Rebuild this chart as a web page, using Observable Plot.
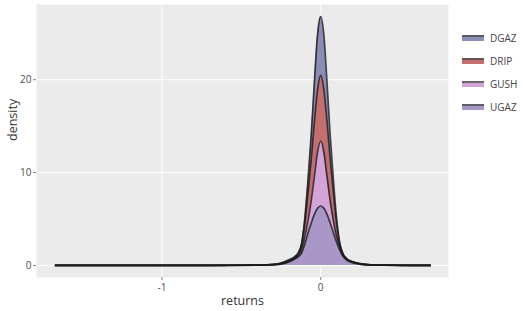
<!DOCTYPE html>
<html>
<head>
<meta charset="utf-8">
<script src="https://cdn.jsdelivr.net/npm/d3@7"></script>
<script src="https://cdn.jsdelivr.net/npm/@observablehq/plot@0.6"></script>
<style>
  body { margin: 0; background: #fff; font-family: "Open Sans", sans-serif; }
  #wrap { position: relative; width: 523px; height: 311px; }
  #legend { position: absolute; left: 462px; top: 26px; font-size: 10px; color: #444; }
  .row { display: flex; align-items: center; height: 23px; }
  .sw { width: 22px; height: 4px; margin-right: 6px; border-top: 2px solid rgba(70,70,70,0.7); }
</style>
</head>
<body>
<div id="wrap"><div id="chart"></div><div id="legend"></div></div>
<script>
const series = ["DGAZ", "DRIP", "GUSH", "UGAZ"];
const colors = ["#8c8db6", "#c46e6f", "#d4a3d8", "#a897c7"];
const xTicks = [-1, 0];
const yTicks = [0, 10, 20];

const returns = [-1.67, -1.2, -0.8, -0.6, -0.4, -0.3, -0.25, -0.2, -0.16, -0.14, -0.12, -0.1, -0.08, -0.06, -0.04, -0.02, 0, 0.02, 0.04, 0.06, 0.08, 0.1, 0.12, 0.14, 0.16, 0.2, 0.25, 0.3, 0.4, 0.5, 0.69];
const UGAZ = [0, 0.002, 0.004, 0.008, 0.02, 0.06, 0.14, 0.38, 0.72, 0.95, 1.35, 2.3, 3.5, 4.55, 5.5, 6.15, 6.4, 6.15, 5.5, 4.55, 3.5, 2.5, 1.65, 1.0, 0.62, 0.3, 0.12, 0.05, 0.02, 0.008, 0];
const GUSH = [0, 0.001, 0.002, 0.004, 0.01, 0.02, 0.04, 0.07, 0.10, 0.15, 0.35, 0.8, 1.3, 2.4, 4.05, 6.05, 7.0, 6.05, 4.05, 2.4, 1.3, 0.6, 0.3, 0.1, 0.1, 0.06, 0.03, 0.02, 0.005, 0.002, 0];
const DRIP = [0, 0.001, 0.002, 0.004, 0.01, 0.02, 0.04, 0.07, 0.08, 0.15, 0.5, 1.4, 3.0, 4.4, 5.9, 6.7, 7.1, 6.7, 5.9, 4.4, 3.0, 1.4, 0.3, 0.1, 0.03, 0.02, 0.03, 0.02, 0.01, 0.005, 0];
const DGAZ = [0, 0.001, 0.002, 0.004, 0.01, 0.02, 0.03, 0.08, 0.1, 0.15, 0.2, 0.6, 1.4, 2.6, 4.2, 5.9, 6.3, 5.9, 4.2, 2.6, 1.4, 0.6, 0.2, 0.1, 0.05, 0.02, 0.02, 0.01, 0.005, 0.005, 0];

const values = {DGAZ, DRIP, GUSH, UGAZ};
const stackOrder = ["UGAZ", "GUSH", "DRIP", "DGAZ"];
const rows = [];
for (const s of stackOrder) {
  returns.forEach((x, i) => rows.push({series: s, returns: x, density: values[s][i]}));
}

const curve = "monotone-x";
const fmt = d => d === 0 ? "0" : "-" + Math.abs(d);
const chart = Plot.plot({
  width: 523,
  height: 311,
  marginLeft: 36,
  marginRight: 75,
  marginTop: 4,
  marginBottom: 34,
  style: {fontFamily: "Open Sans, sans-serif", fontSize: "10px", color: "#4d4d4d", background: "transparent"},
  x: {domain: [-1.79, 0.805], ticks: xTicks, tickFormat: fmt, label: null},
  y: {domain: [-1.3, 28.1], ticks: yTicks, label: null},
  color: {domain: series, range: colors},
  marks: [
    Plot.frame({fill: "#ebebeb", stroke: null}),
    Plot.gridX(xTicks, {stroke: "#fff", strokeOpacity: 1, strokeWidth: 1}),
    Plot.gridY(yTicks, {stroke: "#fff", strokeOpacity: 1, strokeWidth: 1}),
    Plot.areaY(rows, {x: "returns", y: "density", fill: "series", z: "series", order: stackOrder, curve, fillOpacity: 1}),
    Plot.lineY(rows, Plot.stackY2({x: "returns", y: "density", z: "series", order: stackOrder, curve, stroke: "#1a1a1a", strokeOpacity: 0.8, strokeWidth: 1.7})),
    Plot.axisX(xTicks, {tickSize: 3, tickPadding: 3, stroke: "#333", strokeOpacity: 0.6, fill: "#4d4d4d", fontSize: 10, tickFormat: fmt}),
    Plot.axisY(yTicks, {tickSize: 3, tickPadding: 2, stroke: "#333", strokeOpacity: 0.6, fill: "#4d4d4d", fontSize: 10}),
    Plot.text(["returns"], {frameAnchor: "bottom", dy: 27, fontSize: 12.5, fill: "#333"}),
    Plot.text(["density"], {frameAnchor: "left", dx: -24, rotate: -90, fontSize: 12.5, fill: "#333"})
  ]
});
document.getElementById("chart").append(chart);

const legend = document.getElementById("legend");
series.forEach((s, i) => {
  const row = document.createElement("div");
  row.className = "row";
  const sw = document.createElement("div");
  sw.className = "sw";
  sw.style.background = colors[i];
  const t = document.createElement("span");
  t.textContent = s;
  row.append(sw, t);
  legend.append(row);
});
</script>
</body>
</html>
